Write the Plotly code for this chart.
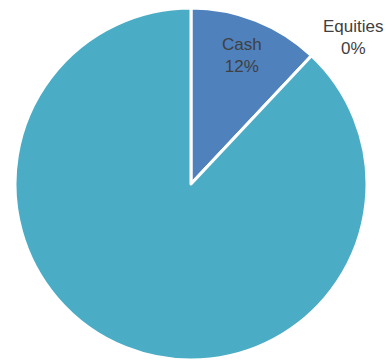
import math
import plotly.graph_objects as go

labels = ["Cash", "Equities", "Fixed Income"]
values = [12, 0, 88]
colors = ["#4F81BD", "#8064A2", "#4BACC6"]

FONT = dict(family="Liberation Sans, Arial, sans-serif", size=17, color="#404040")

fig = go.Figure(go.Pie(
    labels=labels,
    values=values,
    sort=False,
    direction="clockwise",
    rotation=0,
    marker=dict(colors=colors, line=dict(color="white", width=3)),
    textinfo="none",
    showlegend=False,
    hoverinfo="label+percent",
    domain=dict(x=[0, 1], y=[0, 1]),
))

# Label for Cash slice, placed at its mid angle inside the slice
total = sum(values)
mid_angle = 2 * math.pi * (values[0] / 2) / total
rfrac = 0.393
fig.add_annotation(
    text=f"{labels[0]}<br>{values[0]}%",
    xref="paper", yref="paper",
    x=0.5 + rfrac * math.sin(mid_angle), y=0.5 + rfrac * math.cos(mid_angle),
    xanchor="center", yanchor="middle", showarrow=False, align="center",
    font=FONT,
)

# Label for zero-value Equities slice, outside the pie
fig.add_annotation(
    text=f"{labels[1]}<br>{values[1]}%",
    xref="paper", yref="paper", x=0.959, y=0.915,
    xanchor="center", yanchor="middle", showarrow=False, align="center",
    font=FONT,
)

fig.update_layout(
    width=386, height=360,
    margin=dict(l=15, r=19, t=8, b=0),
    paper_bgcolor="white", plot_bgcolor="white",
)

fig.write_html(
    "out.html",
    config={"displayModeBar": False},
    post_script="document.body.style.margin='0';document.body.style.overflow='hidden';",
)
